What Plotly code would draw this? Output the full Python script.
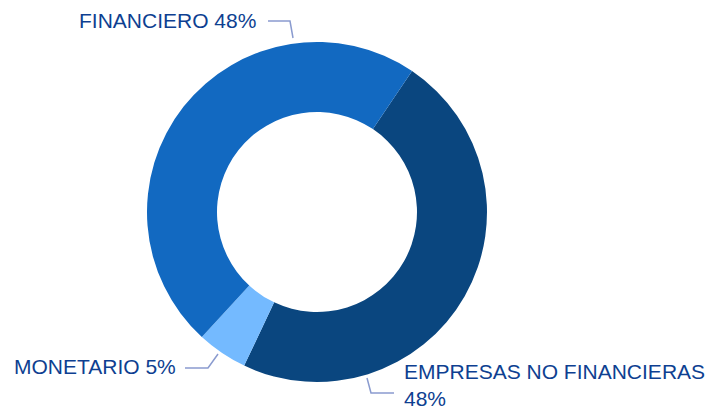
import plotly.graph_objects as go

categories = ["EMPRESAS NO FINANCIERAS", "MONETARIO", "FINANCIERO"]
values = [47.6, 4.8, 47.6]
colors = ["#0a467f", "#74baff", "#1269c1"]

W, H = 710, 412
def px(x): return x / W
def py(y): return 1 - y / H

cx, cy, r = 317, 212, 170

fig = go.Figure(go.Pie(
    labels=categories, values=values, sort=False, direction="clockwise",
    rotation=34, hole=100 / 170, textinfo="none", hoverinfo="label+percent",
    marker=dict(colors=colors, line=dict(width=0)),
    domain=dict(x=[px(cx - r), px(cx + r)], y=[py(cy + r), py(cy - r)]),
    showlegend=False,
))

tot = sum(values)
pct = {c: f"{round(v / tot * 100)}%" for c, v in zip(categories, values)}

font = dict(family="Liberation Sans, Arial, sans-serif", size=21, color="#0e3f91")
line_col = "#8a9bcf"

annos = [
    dict(text=f"FINANCIERO {pct['FINANCIERO']}", x=px(77), y=py(21), xanchor="left"),
    dict(text=f"MONETARIO {pct['MONETARIO']}", x=px(12), y=py(366), xanchor="left"),
    dict(text=f"EMPRESAS NO FINANCIERAS<br>{pct['EMPRESAS NO FINANCIERAS']}", x=px(403), y=py(385), xanchor="left", align="left", borderpad=0),
]
for a in annos:
    fig.add_annotation(xref="paper", yref="paper", yanchor="middle", showarrow=False, font=font, **a)

paths = [
    [(268, 21), (290, 21), (293, 38)],
    [(185, 368), (208, 368), (218, 354)],
    [(367, 378), (371, 393), (394, 393)],
]
for p in paths:
    d = "M " + " L ".join(f"{px(x)},{py(y)}" for x, y in p)
    fig.add_shape(type="path", xref="paper", yref="paper", path=d,
                  line=dict(color=line_col, width=1.5))

fig.update_layout(width=W, height=H, margin=dict(l=0, r=0, t=0, b=0),
                  paper_bgcolor="white", plot_bgcolor="white")
fig.write_html("out.html", config={"displayModeBar": False},
               post_script="document.body.style.margin='0';document.body.style.overflow='hidden';")
